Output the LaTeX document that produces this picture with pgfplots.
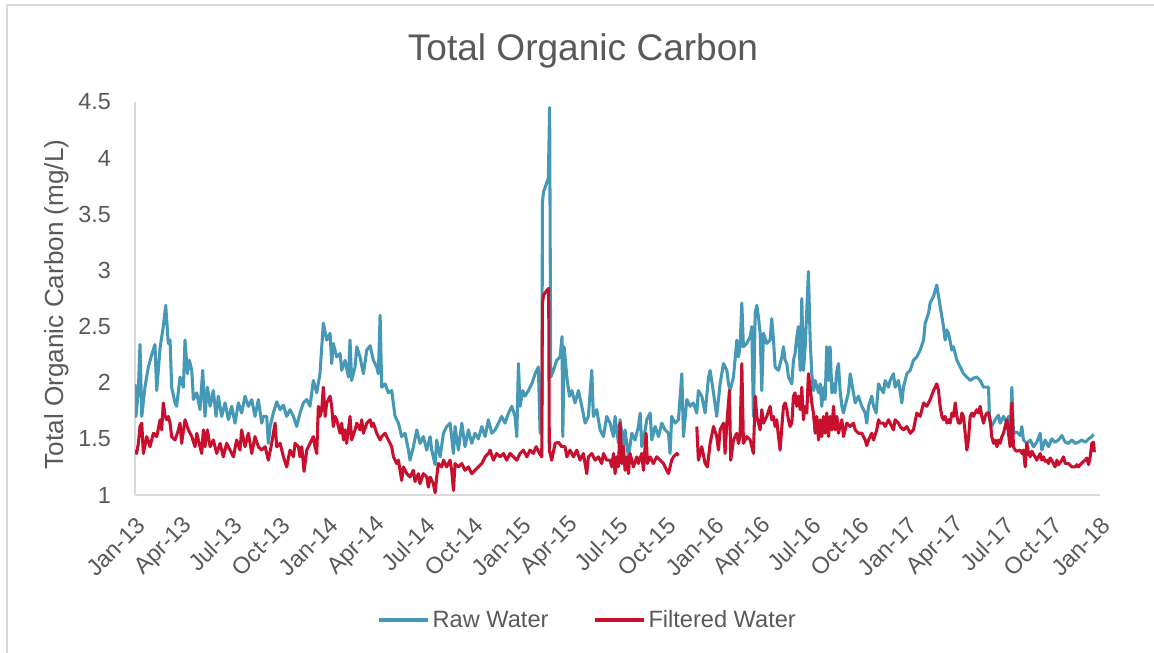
\documentclass[border=0pt]{standalone}
\usepackage{fontspec}
\setmainfont{Liberation Sans}
\usepackage{pgfplots}
\pgfplotsset{compat=1.18}
\usepackage{pgfplotstable}
\definecolor{rawc}{HTML}{4599B7}
\definecolor{filc}{HTML}{C8102E}
\definecolor{txt}{HTML}{595959}
\definecolor{axc}{HTML}{D9D9D9}

% x = months since Jan 2013, y = TOC (mg/L)
\pgfplotstableread{
m v
0.00 1.99
0.06 1.70
0.21 1.93
0.31 2.34
0.42 1.70
0.62 1.96
0.83 2.14
1.04 2.25
1.24 2.34
1.35 1.93
1.56 2.31
1.76 2.50
1.91 2.69
2.07 2.35
2.18 2.38
2.28 1.96
2.49 1.82
2.59 1.79
2.80 2.05
3.01 1.96
3.11 2.38
3.26 2.08
3.38 2.20
3.53 2.11
3.63 1.85
3.84 1.91
4.04 1.76
4.21 2.11
4.35 1.70
4.50 1.96
4.67 1.79
4.87 1.93
5.04 1.70
5.18 1.88
5.39 1.70
5.60 1.82
5.81 1.67
6.01 1.79
6.22 1.64
6.43 1.82
6.63 1.73
6.84 1.88
7.05 1.79
7.26 1.85
7.46 1.70
7.67 1.85
7.88 1.64
7.98 1.70
8.19 1.70
8.29 1.46
8.40 1.61
8.60 1.73
8.81 1.83
9.02 1.76
9.23 1.80
9.43 1.70
9.64 1.76
9.85 1.70
10.05 1.61
10.26 1.73
10.47 1.82
10.68 1.85
10.88 1.79
11.09 2.02
11.30 1.91
11.50 2.08
11.71 2.53
11.92 2.38
12.13 2.44
12.23 2.17
12.33 2.35
12.54 2.23
12.75 2.26
12.85 2.11
13.06 2.20
13.27 2.05
13.37 2.38
13.47 2.02
13.68 2.14
13.79 2.32
13.99 2.23
14.20 2.08
14.41 2.29
14.62 2.33
14.82 2.20
15.03 2.14
15.13 2.08
15.24 2.60
15.34 1.96
15.55 1.99
15.75 1.91
15.96 1.93
16.17 1.70
16.38 1.64
16.58 1.52
16.79 1.55
17.00 1.40
17.10 1.31
17.31 1.43
17.52 1.58
17.72 1.46
17.93 1.52
18.14 1.40
18.35 1.52
18.45 1.40
18.66 1.27
18.76 1.49
18.97 1.34
19.18 1.55
19.38 1.61
19.59 1.64
19.80 1.37
19.90 1.61
20.11 1.40
20.32 1.64
20.52 1.43
20.73 1.58
20.94 1.46
21.14 1.55
21.35 1.50
21.56 1.61
21.77 1.52
21.97 1.67
22.18 1.55
22.39 1.58
22.60 1.64
22.80 1.70
23.01 1.64
23.22 1.73
23.43 1.79
23.63 1.70
23.74 1.52
23.84 2.17
23.94 1.79
24.11 1.93
24.25 1.88
24.46 1.93
24.67 1.99
24.88 2.08
25.08 2.14
25.19 1.55
25.30 1.55
25.33 3.60
25.40 3.70
25.60 3.78
25.70 3.82
25.78 4.45
25.85 2.05
26.02 2.11
26.22 2.20
26.43 2.23
26.55 2.41
26.60 1.52
26.68 2.32
26.85 2.05
27.01 1.88
27.16 1.93
27.36 1.82
27.57 1.93
27.78 1.79
27.99 1.64
28.19 1.70
28.40 2.11
28.50 1.70
28.71 1.76
28.92 1.58
29.13 1.52
29.33 1.70
29.54 1.64
29.75 1.52
29.85 1.70
30.06 1.46
30.16 1.67
30.37 1.43
30.47 1.58
30.68 1.34
30.89 1.55
31.09 1.49
31.30 1.61
31.41 1.73
31.51 1.43
31.72 1.58
31.82 1.67
32.03 1.73
32.13 1.49
32.34 1.61
32.55 1.52
32.75 1.64
32.96 1.58
33.17 1.55
33.27 1.37
33.37 1.70
33.58 1.64
33.79 1.67
34.00 2.08
34.10 1.52
34.31 1.85
34.52 1.79
34.72 1.82
34.93 1.73
35.03 1.93
35.24 1.88
35.45 1.73
35.66 2.05
35.76 2.11
35.97 1.91
36.17 1.70
36.38 1.99
36.59 2.17
36.80 2.11
36.90 1.99
37.00 1.93
37.21 2.05
37.42 2.38
37.52 2.23
37.62 2.32
37.73 2.71
37.83 2.32
38.04 2.35
38.25 2.41
38.35 2.50
38.45 1.70
38.56 2.62
38.66 2.69
38.76 2.59
38.87 2.44
38.97 1.93
39.08 2.44
39.28 2.35
39.49 2.38
39.59 2.57
39.70 2.38
39.80 2.14
40.01 2.11
40.22 2.23
40.32 2.32
40.42 2.20
40.53 2.17
40.63 2.05
40.84 1.99
40.94 2.20
41.04 2.26
41.15 2.41
41.25 2.50
41.36 2.11
41.46 2.75
41.56 2.11
41.67 2.32
41.77 2.65
41.87 2.99
41.98 2.38
42.08 2.08
42.18 1.93
42.29 2.02
42.50 1.91
42.60 1.99
42.70 1.79
42.81 1.96
42.91 1.85
43.01 2.32
43.12 2.02
43.22 2.32
43.33 1.91
43.43 1.99
43.53 1.91
43.64 2.11
43.74 2.17
43.84 1.93
43.95 1.79
44.05 1.73
44.15 1.79
44.36 1.91
44.47 2.08
44.67 1.91
44.78 1.82
44.98 1.88
45.19 1.79
45.40 1.73
45.50 1.64
45.61 1.79
45.81 1.88
45.92 1.79
46.08 1.73
46.23 1.99
46.33 1.96
46.54 1.91
46.64 2.02
46.85 1.96
46.95 2.02
47.16 2.08
47.26 1.96
47.47 2.02
47.68 1.82
47.78 1.96
47.99 2.08
48.20 2.11
48.40 2.20
48.61 2.23
48.82 2.29
49.03 2.38
49.13 2.53
49.34 2.62
49.44 2.71
49.65 2.77
49.85 2.87
50.06 2.68
50.27 2.50
50.37 2.38
50.48 2.47
50.58 2.44
50.68 2.37
50.79 2.29
50.89 2.32
51.10 2.20
51.31 2.14
51.51 2.08
51.72 2.05
51.93 2.02
52.13 2.04
52.34 2.05
52.55 2.02
52.76 1.96
52.96 1.96
53.07 1.96
53.13 1.67
53.27 1.61
53.48 1.67
53.69 1.71
53.79 1.64
54.00 1.70
54.21 1.64
54.31 1.70
54.41 1.55
54.52 1.96
54.62 1.55
54.83 1.56
55.04 1.53
55.14 1.61
55.24 1.49
55.45 1.46
55.66 1.49
55.87 1.43
56.07 1.47
56.28 1.55
56.38 1.40
56.59 1.49
56.80 1.43
57.00 1.50
57.21 1.47
57.42 1.49
57.63 1.53
57.84 1.47
58.04 1.46
58.25 1.49
58.46 1.46
58.66 1.47
58.87 1.49
59.08 1.47
59.29 1.50
59.49 1.52
59.60 1.54
}\rawdata

\pgfplotstableread{
m v
0.00 1.40
0.10 1.37
0.21 1.46
0.31 1.61
0.42 1.64
0.52 1.37
0.73 1.52
0.93 1.43
1.14 1.55
1.35 1.52
1.56 1.67
1.66 1.58
1.76 1.82
1.87 1.70
1.97 1.67
2.07 1.70
2.18 1.64
2.28 1.52
2.49 1.49
2.70 1.58
2.80 1.64
2.90 1.46
3.11 1.67
3.32 1.58
3.53 1.52
3.73 1.43
3.84 1.55
3.94 1.49
4.15 1.37
4.25 1.58
4.35 1.43
4.50 1.58
4.67 1.43
4.87 1.49
5.08 1.37
5.29 1.46
5.49 1.34
5.70 1.46
5.91 1.40
6.12 1.34
6.32 1.49
6.53 1.40
6.63 1.58
6.84 1.43
7.05 1.55
7.26 1.37
7.46 1.52
7.67 1.43
7.88 1.40
8.09 1.43
8.29 1.31
8.50 1.46
8.71 1.64
8.81 1.43
9.02 1.46
9.23 1.34
9.43 1.25
9.64 1.40
9.85 1.34
9.95 1.46
10.16 1.43
10.26 1.34
10.37 1.43
10.51 1.21
10.68 1.40
10.88 1.46
11.09 1.52
11.19 1.43
11.30 1.37
11.40 1.79
11.50 1.70
11.61 1.76
11.71 1.96
11.82 1.70
11.92 1.82
12.13 1.88
12.23 1.79
12.33 1.61
12.44 1.70
12.54 1.67
12.75 1.55
12.85 1.64
12.96 1.49
13.06 1.58
13.16 1.46
13.37 1.70
13.47 1.49
13.68 1.58
13.79 1.64
13.99 1.58
14.10 1.67
14.20 1.55
14.41 1.64
14.62 1.67
14.72 1.61
14.82 1.64
15.03 1.55
15.24 1.49
15.34 1.52
15.55 1.55
15.65 1.52
15.86 1.46
15.96 1.43
16.07 1.34
16.27 1.28
16.38 1.31
16.48 1.22
16.58 1.13
16.69 1.25
16.90 1.19
17.10 1.16
17.31 1.22
17.41 1.12
17.62 1.19
17.72 1.10
17.93 1.19
18.14 1.16
18.24 1.07
18.35 1.16
18.55 1.10
18.66 1.02
18.76 1.16
18.86 1.28
19.07 1.25
19.18 1.31
19.38 1.25
19.59 1.31
19.69 1.22
19.80 1.04
19.90 1.28
20.11 1.25
20.32 1.28
20.52 1.22
20.73 1.25
20.94 1.19
21.14 1.22
21.35 1.25
21.56 1.28
21.77 1.34
21.97 1.37
22.08 1.40
22.28 1.31
22.49 1.37
22.70 1.34
22.91 1.37
23.11 1.31
23.32 1.37
23.53 1.34
23.74 1.31
23.94 1.37
24.15 1.40
24.36 1.34
24.56 1.40
24.77 1.37
24.94 1.43
25.15 1.37
25.29 1.34
25.33 2.70
25.40 2.78
25.60 2.82
25.72 2.84
25.76 1.40
25.91 1.31
26.12 1.46
26.33 1.47
26.53 1.43
26.74 1.43
26.85 1.34
27.05 1.40
27.26 1.34
27.47 1.40
27.67 1.31
27.88 1.37
28.09 1.19
28.19 1.34
28.40 1.37
28.61 1.31
28.81 1.34
29.02 1.28
29.13 1.37
29.33 1.31
29.54 1.31
29.64 1.25
29.75 1.37
29.85 1.19
29.95 1.34
30.06 1.25
30.16 1.64
30.27 1.28
30.37 1.43
30.47 1.22
30.58 1.34
30.68 1.19
30.78 1.37
30.99 1.25
31.20 1.34
31.30 1.28
31.51 1.37
31.61 1.22
31.78 1.55
31.86 1.28
32.03 1.34
32.23 1.28
32.44 1.34
32.65 1.31
32.86 1.28
33.06 1.22
33.17 1.19
33.27 1.25
33.37 1.31
33.48 1.34
33.69 1.37
33.79 1.35
33.90 nan
34.93 1.61
35.03 1.31
35.24 1.43
35.45 1.28
35.59 1.25
35.76 1.46
35.97 1.61
36.17 1.52
36.28 1.40
36.38 1.58
36.59 1.64
36.69 1.37
36.80 1.64
36.96 1.93
37.04 1.31
37.21 1.49
37.42 1.55
37.52 1.46
37.62 1.52
37.73 2.17
37.83 1.46
38.04 1.52
38.25 1.49
38.45 1.37
38.56 1.88
38.66 1.70
38.87 1.58
38.97 1.76
39.08 1.64
39.28 1.70
39.49 1.79
39.59 1.67
39.70 1.70
39.80 1.61
39.90 1.67
40.01 1.52
40.11 1.40
40.22 1.61
40.32 1.79
40.42 1.82
40.53 1.76
40.63 1.67
40.73 1.61
40.84 1.64
40.94 1.88
41.04 1.91
41.15 1.79
41.25 1.88
41.36 1.76
41.46 1.96
41.56 1.67
41.67 1.79
41.77 1.73
41.87 2.08
41.98 1.96
42.08 1.82
42.18 1.73
42.29 1.55
42.39 1.70
42.50 1.49
42.60 1.67
42.70 1.52
42.81 1.70
42.91 1.55
43.01 1.73
43.12 1.52
43.22 1.70
43.33 1.58
43.43 1.79
43.53 1.58
43.64 1.70
43.74 1.55
43.84 1.61
43.95 1.67
44.05 1.52
44.15 1.58
44.26 1.64
44.47 1.61
44.67 1.64
44.78 1.58
44.98 1.55
45.19 1.55
45.40 1.49
45.50 1.44
45.61 1.49
45.81 1.55
45.92 1.49
46.12 1.58
46.23 1.67
46.33 1.64
46.54 1.64
46.64 1.61
46.85 1.67
46.95 1.64
47.16 1.58
47.26 1.67
47.47 1.64
47.57 1.61
47.78 1.58
47.99 1.61
48.20 1.55
48.40 1.58
48.61 1.73
48.82 1.70
49.03 1.82
49.23 1.79
49.44 1.85
49.65 1.93
49.85 1.99
49.96 1.93
50.06 1.79
50.17 1.70
50.27 1.67
50.37 1.70
50.48 1.64
50.58 1.67
50.68 1.64
50.79 1.73
50.89 1.70
51.00 1.82
51.10 1.70
51.20 1.64
51.31 1.64
51.41 1.73
51.51 1.70
51.62 1.55
51.72 1.40
51.82 1.49
51.93 1.70
52.03 1.73
52.13 1.70
52.34 1.76
52.45 1.73
52.55 1.79
52.65 1.70
52.76 1.64
52.86 1.70
52.96 1.73
53.07 1.73
53.17 1.67
53.27 1.52
53.38 1.46
53.48 1.49
53.59 1.43
53.69 1.49
53.79 1.46
53.90 1.52
54.00 1.55
54.10 1.61
54.21 1.67
54.31 1.55
54.41 1.43
54.52 1.82
54.62 1.43
54.73 1.40
54.83 1.39
55.04 1.40
55.14 1.37
55.24 1.40
55.35 1.25
55.45 1.46
55.56 1.37
55.66 1.34
55.76 1.39
55.87 1.36
55.97 1.34
56.07 1.31
56.28 1.37
56.38 1.31
56.49 1.34
56.59 1.30
56.70 1.31
56.80 1.28
56.90 1.33
57.00 1.31
57.21 1.25
57.32 1.31
57.42 1.27
57.63 1.31
57.73 1.34
57.84 1.28
58.04 1.28
58.25 1.25
58.46 1.25
58.56 1.27
58.66 1.25
58.77 1.27
58.98 1.30
59.08 1.31
59.18 1.33
59.29 1.27
59.39 1.34
59.49 1.46
59.60 1.47
59.65 1.38
}\filtdata

\begin{document}
\begin{tikzpicture}[x=1pt,y=1pt]
\path[use as bounding box] (0,0) rectangle (865.5,489.75);
\draw[axc, line width=1.2pt] (5.25,-10) -- (5.25,486) -- (880,486);
\node[anchor=base, text=txt, font=\fontsize{27.8}{33}\selectfont] at (437.25,444) {Total Organic Carbon};
\node[rotate=90, text=txt, font=\fontsize{19.6}{23}\selectfont] at (42.75,261.5) {Total Organic Carbon (mg/L)};
\begin{axis}[
  at={(101.25pt,118.5pt)}, anchor=south west,
  width=723.75pt, height=294.75pt, scale only axis,
  xmin=0, xmax=60, ymin=1, ymax=4.5,
  axis x line=bottom, axis y line=left,
  axis line style={-, draw=axc, line width=1.5pt},
  major tick length=0pt,
  xtick={0,3,...,60},
  xticklabels={Jan-13,Apr-13,Jul-13,Oct-13,Jan-14,Apr-14,Jul-14,Oct-14,Jan-15,Apr-15,Jul-15,Oct-15,Jan-16,Apr-16,Jul-16,Oct-16,Jan-17,Apr-17,Jul-17,Oct-17,Jan-18},
  ytick={1,1.5,2,2.5,3,3.5,4,4.5},
  yticklabels={1,1.5,2,2.5,3,3.5,4,4.5},
  tick label style={font=\fontsize{17.5}{21}\selectfont, text=txt},
  xticklabel style={xshift=4.5pt, yshift=-20pt, rotate=45, anchor=east, inner sep=0pt},
  yticklabel style={xshift=-18pt, anchor=east, inner sep=0pt},
  /pgf/number format/assume math mode=true,
  unbounded coords=jump,
  legend columns=2,
  legend style={at={(0.469,-0.318)}, anchor=center, draw=none, fill=none,
    font=\fontsize{17.7}{21}\selectfont, text=txt,
    /tikz/every even column/.append style={column sep=31pt}},
  legend image code/.code={\draw[#1, line width=3pt] (0pt,0pt) -- (37pt,0pt);},
]
\addplot[rawc, line width=2.3pt, line join=round] table[x=m, y=v] {\rawdata};
\addlegendentry{Raw Water}
\addplot[filc, line width=2.3pt, line join=round] table[x=m, y=v] {\filtdata};
\addlegendentry{Filtered Water}
\end{axis}
\end{tikzpicture}
\end{document}
